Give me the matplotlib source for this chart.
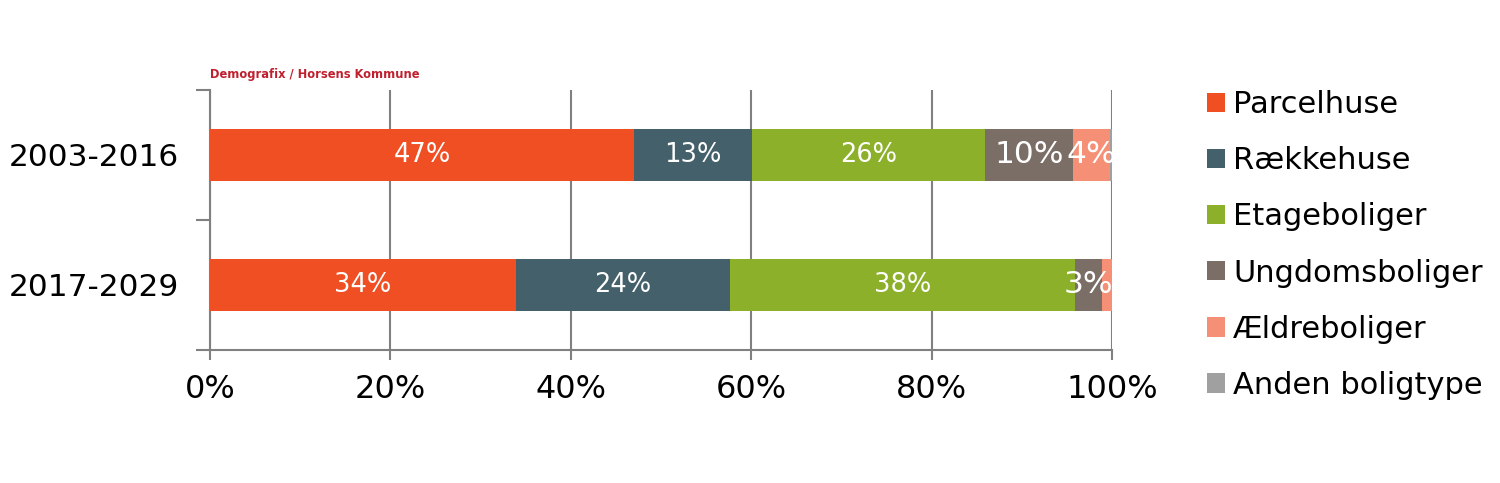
import numpy as np
import matplotlib
matplotlib.use('Agg')
import matplotlib.pyplot as plt
from matplotlib.patches import Patch

# Data (share of new housing, %):
periods = ['2003-2016', '2017-2029']
types = ['Parcelhuse', 'Rækkehuse', 'Etageboliger', 'Ungdomsboliger', 'Ældreboliger', 'Anden boligtype']
parcelhuse = [47.0, 33.9]
raekkehuse = [13.1, 23.7]
etageboliger = [25.8, 38.3]
ungdomsboliger = [9.8, 3.0]
aeldreboliger = [4.1, 1.1]
anden = [0.2, 0.0]

colors = ['#F04E23', '#44606A', '#8DB02B', '#7A6E66', '#F59076', '#A0A0A0']
series = [parcelhuse, raekkehuse, etageboliger, ungdomsboliger, aeldreboliger, anden]

plt.rcParams['font.family'] = ['DejaVu Sans']

fig = plt.figure(figsize=(15, 4.83), dpi=100)
ax = fig.add_axes([0.14, 0.2754, 0.6013, 0.5383])

y = np.arange(len(periods))
left = np.zeros(len(periods))
for vals, col in zip(series, colors):
    vals = np.array(vals)
    ax.barh(y, vals, left=left, height=0.4, color=col, zorder=3)
    for yi, (l, v) in enumerate(zip(left, vals)):
        if v >= 2.5:
            fs = 22.5 if v < 12 else 18.5
            ax.text(l + v / 2, yi, f'{v:.0f}%', ha='center', va='center',
                    color='white', fontsize=fs, zorder=4)
    left += vals

ax.set_xlim(0, 100)
ax.set_ylim(1.5, -0.5)

# Axes styling:
ax.set_xticks(np.arange(0, 101, 20))
ax.set_xticklabels([f'{v}%' for v in range(0, 101, 20)], fontsize=23)
ax.tick_params(axis='x', length=7, width=1.5, color='#808080', pad=10)
ax.set_yticks(y)
ax.set_yticklabels(periods, fontsize=22.5)
ax.tick_params(axis='y', which='major', length=0, pad=22)
ax.set_yticks([-0.5, 0.5, 1.5], minor=True)
ax.tick_params(axis='y', which='minor', length=10, width=1.5, color='#808080')

ax.grid(axis='x', color='#808080', linewidth=1.5, zorder=0)
for s in ['top', 'right']:
    ax.spines[s].set_visible(False)
for s in ['left', 'bottom']:
    ax.spines[s].set_color('#808080')
    ax.spines[s].set_linewidth(1.5)

# Source note:
fig.text(0.14, 0.845, 'Demografix / Horsens Kommune', color='#C0202E',
         fontsize=8.3, fontweight='bold', ha='left', va='center')

# Legend:
handles = [Patch(facecolor=c, edgecolor='none') for c in colors]
fig.legend(handles, types, loc='upper left', bbox_to_anchor=(0.7965, 0.839),
           frameon=False, fontsize=22, handlelength=0.6, handleheight=0.6,
           handletextpad=0.25, labelspacing=0.89, borderaxespad=0)

fig.savefig('out.png', dpi=100)
